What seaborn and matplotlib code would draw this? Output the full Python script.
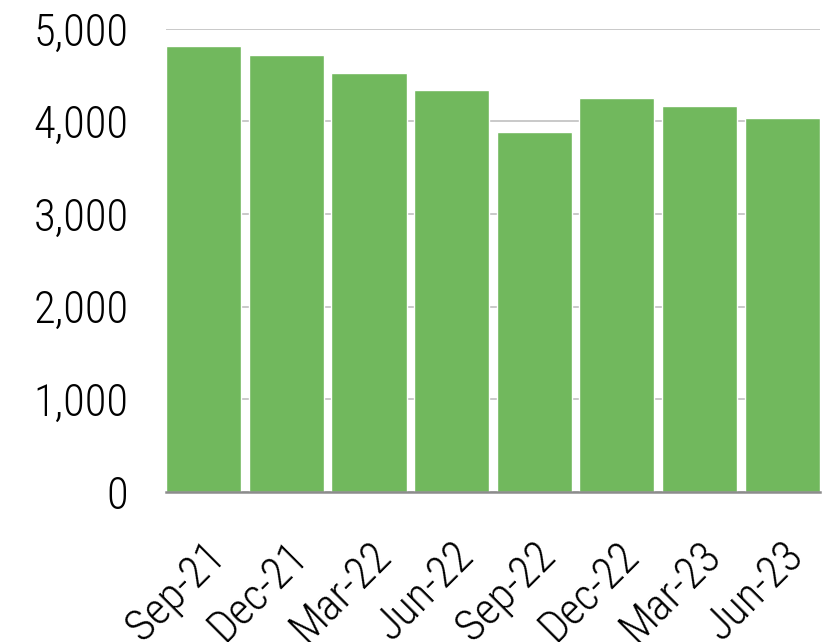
import pandas as pd
import matplotlib.pyplot as plt
import matplotlib.transforms as mtransforms
import seaborn as sns

# data
quarters = ['Sep-21', 'Dec-21', 'Mar-22', 'Jun-22', 'Sep-22', 'Dec-22', 'Mar-23', 'Jun-23']
values = [4810, 4720, 4520, 4340, 3890, 4250, 4170, 4040]
y_ticks = [0, 1000, 2000, 3000, 4000, 5000]

data = pd.DataFrame({'Quarter': quarters, 'Value': values})

sns.set_style('white')
plt.rcParams['font.family'] = ['Roboto Condensed', 'DejaVu Sans']
plt.rcParams['font.weight'] = 'light'
plt.rcParams['text.color'] = 'black'
plt.rcParams['xtick.color'] = 'black'
plt.rcParams['ytick.color'] = 'black'

fig = plt.figure(figsize=(8.34, 6.42), dpi=100)
ax = fig.add_axes([0.199, 0.234, 0.784, 0.721])

bar_w = 0.91
sns.barplot(x='Quarter', y='Value', data=data, color='#71B85D',
            saturation=1, width=bar_w, ax=ax, zorder=3)

ax.set_xlim(-bar_w / 2, len(quarters) - 1 + bar_w / 2)
ax.set_ylim(0, 5000)
ax.set_yticks(y_ticks)
ax.set_yticklabels([f'{v:,}' for v in y_ticks])
ax.yaxis.grid(True, color='#C0C0C0', linewidth=1.2, zorder=0)
ax.set_xlabel('')
ax.set_ylabel('')

for side in ['top', 'right', 'left']:
    ax.spines[side].set_visible(False)
ax.spines['bottom'].set_color('#8C8C8C')
ax.spines['bottom'].set_linewidth(1.8)
ax.spines['bottom'].set_zorder(4)

ax.tick_params(axis='y', labelsize=32, length=0, pad=27)
ax.tick_params(axis='x', labelsize=32, length=0, pad=0)

# rotated x labels, shifted like the original
offset = mtransforms.ScaledTranslation(30 / 100, -42 / 100, fig.dpi_scale_trans)
for lbl in ax.get_xticklabels():
    lbl.set_rotation(45)
    lbl.set_ha('right')
    lbl.set_va('top')
    lbl.set_transform(lbl.get_transform() + offset)

plt.savefig('out.png', dpi=100)
